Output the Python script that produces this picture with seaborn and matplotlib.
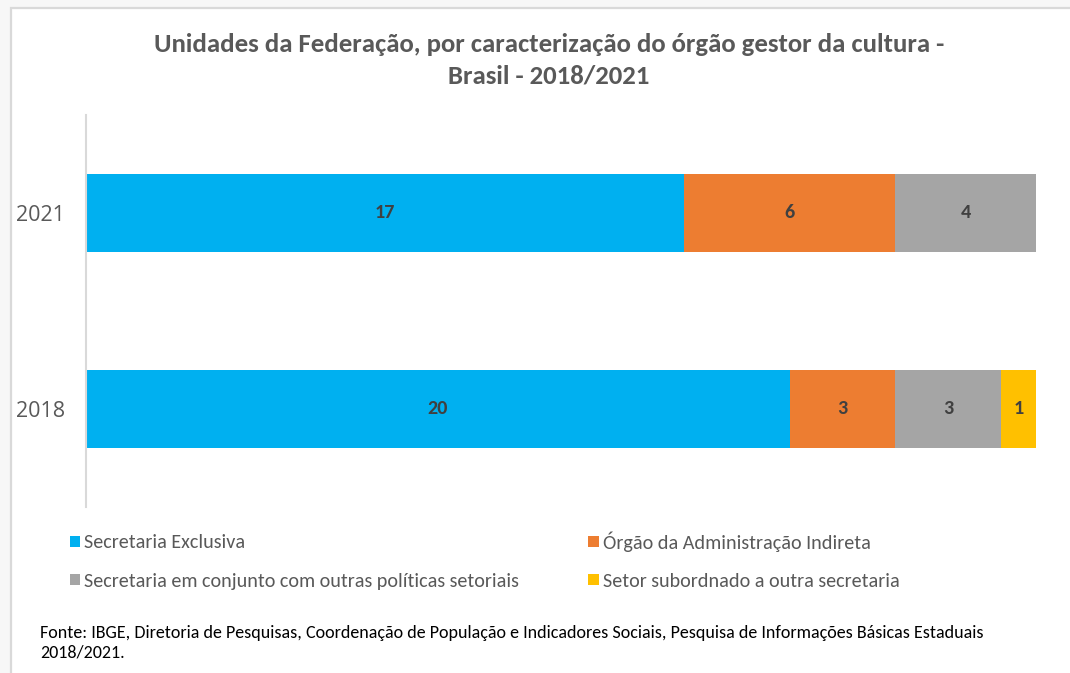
import matplotlib
matplotlib.use("Agg")
import matplotlib.pyplot as plt
from matplotlib.patches import Patch, Rectangle
import seaborn as sns
import pandas as pd

# Data
years = ["2021", "2018"]
categories = [
    "Secretaria Exclusiva",
    "Órgão da Administração Indireta",
    "Secretaria em conjunto com outras políticas setoriais",
    "Setor subordnado a outra secretaria",
]
secretaria_exclusiva = [17, 20]
orgao_adm_indireta = [6, 3]
secretaria_conjunto = [4, 3]
setor_subordinado = [0, 1]
colors = ["#00B0F0", "#ED7D31", "#A5A5A5", "#FFC000"]

title_lines = [
    "Unidades da Federação, por caracterização do órgão gestor da cultura -",
    "Brasil - 2018/2021",
]
source_lines = [
    "Fonte: IBGE, Diretoria de Pesquisas, Coordenação de População e Indicadores Sociais, "
    "Pesquisa de Informações Básicas Estaduais",
    "2018/2021.",
]

sns.set_theme(style="white")
plt.rcParams["font.family"] = ["Carlito", "DejaVu Sans"]

W, H = 1070, 673
fig = plt.figure(figsize=(W / 100, H / 100), dpi=100)
fig.patch.set_facecolor("#f7f7f7")
# white chart panel with a light frame
panel = Rectangle((11 / W, -0.01), 1 - 11 / W + 0.01, 1.01 - 8 / H,
                  transform=fig.transFigure, facecolor="white",
                  edgecolor="#d9d9d9", linewidth=1.6, zorder=-10)
fig.add_artist(panel)

ax = fig.add_axes([86 / W, 1 - 507 / H, (1036 - 86) / W, (507 - 115) / H])
ax.set_facecolor("none")
ax.set_zorder(1)

series = [secretaria_exclusiva, orgao_adm_indireta, secretaria_conjunto, setor_subordinado]
df = pd.DataFrame({"ano": years})
for name, vals in zip(categories, series):
    df[name] = vals
cum = df[categories].cumsum(axis=1)

# stacked bars: draw cumulative totals from the outermost layer inward
for name, color in reversed(list(zip(categories, colors))):
    sns.barplot(data=pd.DataFrame({"ano": years, "v": cum[name]}), x="v", y="ano",
                order=years, color=color, width=0.4, saturation=1, ax=ax,
                linewidth=0)

# value labels centred in each segment
for i in range(len(years)):
    start = 0
    for name in categories:
        v = df[name].iloc[i]
        if v > 0:
            ax.text(start + v / 2, i, f"{v}", ha="center", va="center",
                    fontsize=14.5, fontweight="bold", color="#404040")
        start += v

ax.set_xlim(0, 27)
ax.set_ylim(1.5, -0.5)
ax.set_xlabel("")
ax.set_ylabel("")
ax.set_xticks([])
for s in ["top", "right", "bottom"]:
    ax.spines[s].set_visible(False)
ax.spines["left"].set_color("#d9d9d9")
ax.spines["left"].set_linewidth(1.5)
ax.tick_params(axis="y", length=0, pad=15, labelsize=15.5, labelcolor="#595959")
for lbl in ax.get_yticklabels():
    lbl.set_family(["Open Sans", "DejaVu Sans"])

# title
for txt, ypx in zip(title_lines, [45, 76]):
    fig.text(549 / W, 1 - ypx / H, txt, ha="center", va="center",
             fontsize=19.3, fontweight="bold", color="#595959")

# legend (column-wise fill: left column first)
order = [0, 2, 1, 3]
handles = [Patch(facecolor=colors[k], edgecolor="none", label=categories[k]) for k in order]
leg = fig.legend(handles=handles, ncol=2, loc="upper left",
                 bbox_to_anchor=(70 / W, 1 - 531 / H), frameon=False,
                 fontsize=14.5, handlelength=0.5, handleheight=0.5,
                 handletextpad=0.2, columnspacing=3.45, labelspacing=1.05,
                 borderaxespad=0, borderpad=0)
for t in leg.get_texts():
    t.set_color("#595959")

# source note
for txt, ypx in zip(source_lines, [633, 653]):
    fig.text(40 / W, 1 - ypx / H, txt, ha="left", va="center",
             fontsize=13, color="#000000")

fig.savefig("out.png", dpi=100, facecolor=fig.get_facecolor())
